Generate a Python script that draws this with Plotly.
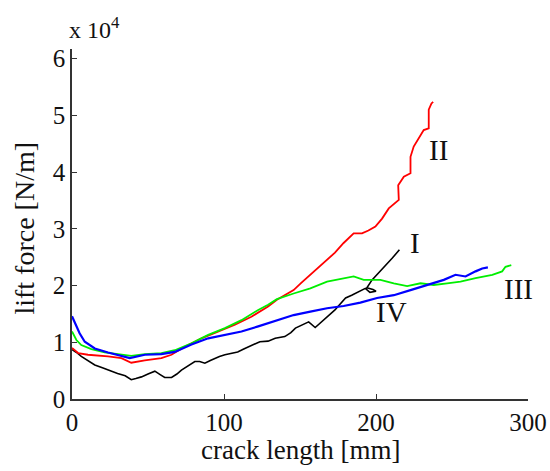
import plotly.graph_objects as go

# Curve I (black)
x_I = [0, 3, 6.1, 10, 15, 20, 23.7, 30, 35, 39, 42, 45.7, 50, 54.5, 58, 61, 65.5, 69, 72, 76, 80.8, 84, 87.4, 91, 94, 97,
       100.6, 105, 109, 113, 116, 120, 123.6, 129, 133.7, 140, 144, 147, 151, 155.7, 160, 163, 166.7, 170, 173, 176, 180,
       184, 188.6, 193, 196, 200, 198, 194, 197.4, 201, 204, 207, 210.6, 215.4]
y_I = [0.87, 0.82, 0.75, 0.69, 0.60, 0.55, 0.51, 0.45, 0.41, 0.34, 0.36, 0.39, 0.44, 0.49, 0.43, 0.38, 0.38, 0.44, 0.51, 0.58, 0.66, 0.66, 0.63, 0.68, 0.72, 0.75,
       0.78, 0.80, 0.83, 0.88, 0.92, 0.96, 1.01, 1.02, 1.07, 1.10, 1.17, 1.25, 1.30, 1.36, 1.26, 1.33, 1.42, 1.49, 1.57, 1.66, 1.78,
       1.83, 1.89, 1.95, 1.88, 1.90, 1.93, 1.96, 2.10, 2.20, 2.30, 2.38, 2.48, 2.63]

# Curve II (red)
x_II = [0, 4, 10.5, 17, 23.7, 32.5, 39, 47.9, 58.8, 65.4, 74.2, 85.2, 96.2, 107.2, 118, 129, 134.8, 140, 145.8, 151, 156.8,
        162, 167.8, 173, 178.7, 183, 185.3, 190.8, 195, 199.6, 204, 208.4, 212, 215, 214.6, 218.3, 222.7, 222.7, 224.8,
        229.2, 231.4, 234.7, 234.7, 236.5, 237.6]
y_II = [0.90, 0.81, 0.78, 0.77, 0.75, 0.72, 0.64, 0.68, 0.72, 0.78, 0.92, 1.07, 1.19, 1.31, 1.45, 1.63, 1.75, 1.83, 1.92, 2.05, 2.19,
        2.31, 2.45, 2.58, 2.75, 2.85, 2.92, 2.92, 2.97, 3.04, 3.18, 3.36, 3.45, 3.51, 3.77, 3.92, 3.98, 4.27, 4.45,
        4.66, 4.74, 4.77, 5.10, 5.21, 5.24]

# Curve III (green)
x_III = [0, 2.9, 6.1, 12.7, 21.5, 30.3, 39, 47.9, 58.8, 67.6, 78.6, 89.6, 100.6, 111.5, 122.5, 129, 134.8, 145.8, 156.8,
         167.8, 178.7, 185.3, 191.9, 202.9, 211.7, 220.5, 229.3, 238, 246.8, 255.6, 265.5, 276.5, 283, 285.2, 289]
y_III = [1.19, 1.04, 0.95, 0.88, 0.82, 0.79, 0.76, 0.79, 0.81, 0.86, 0.98, 1.13, 1.25, 1.39, 1.57, 1.66, 1.76, 1.86, 1.95,
         2.07, 2.13, 2.16, 2.10, 2.10, 2.04, 1.99, 2.04, 2.01, 2.04, 2.07, 2.13, 2.19, 2.25, 2.33, 2.36]

# Curve IV (blue)
x_IV = [0, 1.8, 5, 8.4, 15, 23.7, 32.5, 38, 47.9, 58.8, 67.6, 78.6, 89.6, 100.6, 111.5, 122.5, 134.8, 145.8, 156.8, 167.8,
        178.7, 189.7, 200.7, 211.7, 222.7, 233.7, 244.6, 252.3, 258.9, 265.5, 269.9, 273.6]
y_IV = [1.46, 1.34, 1.16, 1.01, 0.89, 0.82, 0.76, 0.72, 0.78, 0.79, 0.83, 0.96, 1.07, 1.13, 1.19, 1.28, 1.39, 1.48, 1.54, 1.60,
        1.64, 1.70, 1.78, 1.83, 1.92, 2.01, 2.10, 2.19, 2.16, 2.25, 2.30, 2.32]

# Curve labels
label_text = ["II", "I", "III", "IV"]
label_x = [241, 225.5, 293.5, 210]
label_y = [4.39, 2.75, 1.94, 1.53]

x_ticks = [0, 100, 200, 300]
y_ticks = [0, 1, 2, 3, 4, 5, 6]

FONT = "Liberation Serif"

fig = go.Figure()
fig.add_trace(go.Scatter(x=x_I, y=y_I, mode="lines", line=dict(color="#000000", width=1.6), name="I"))
fig.add_trace(go.Scatter(x=x_II, y=y_II, mode="lines", line=dict(color="#ff0000", width=1.8), name="II"))
fig.add_trace(go.Scatter(x=x_III, y=y_III, mode="lines", line=dict(color="#00ee00", width=1.8), name="III"))
fig.add_trace(go.Scatter(x=x_IV, y=y_IV, mode="lines", line=dict(color="#0000ff", width=2.2), name="IV"))

for t, lx, ly in zip(label_text, label_x, label_y):
    fig.add_annotation(x=lx, y=ly, text=t, showarrow=False, xanchor="center", yanchor="middle",
                       font=dict(family=FONT, size=29, color="#111111"))

fig.add_annotation(xref="paper", yref="paper", x=0.5, y=-0.145, text="crack length [mm]", showarrow=False,
                   xanchor="center", yanchor="middle", font=dict(family=FONT, size=27, color="#111111"))
fig.add_annotation(xref="paper", yref="paper", x=-0.103, y=0.487, text="lift force [N/m]", showarrow=False,
                   textangle=-90, xanchor="center", yanchor="middle", font=dict(family=FONT, size=28, color="#111111"))
fig.add_annotation(xref="paper", yref="paper", x=-0.01, y=1.012, text="x 10<sup>4</sup>", showarrow=False,
                   xanchor="left", yanchor="bottom", font=dict(family=FONT, size=24, color="#111111"))

fig.update_layout(
    width=550, height=471,
    margin=dict(l=72, r=22, t=49, b=72, autoexpand=False),
    paper_bgcolor="white", plot_bgcolor="white",
    showlegend=False,
    font=dict(family=FONT, size=24, color="#111111"),
)
fig.update_xaxes(range=[0, 300], tickvals=x_ticks, ticks="inside", ticklen=5, tickcolor="#333333",
                 showline=True, linecolor="#333333", linewidth=1.5, showgrid=False, zeroline=False,
                 automargin=False, tickfont=dict(family=FONT, size=25, color="#111111"))
fig.update_yaxes(range=[0, 6.17], tickvals=y_ticks, ticks="inside", ticklen=5, tickcolor="#333333",
                 showline=True, linecolor="#333333", linewidth=1.5, showgrid=False, zeroline=False,
                 automargin=False, tickfont=dict(family=FONT, size=25, color="#111111"))

fig.write_html("out.html", config={"displayModeBar": False},
               post_script="document.body.style.margin='0px';document.body.style.overflow='hidden';")
